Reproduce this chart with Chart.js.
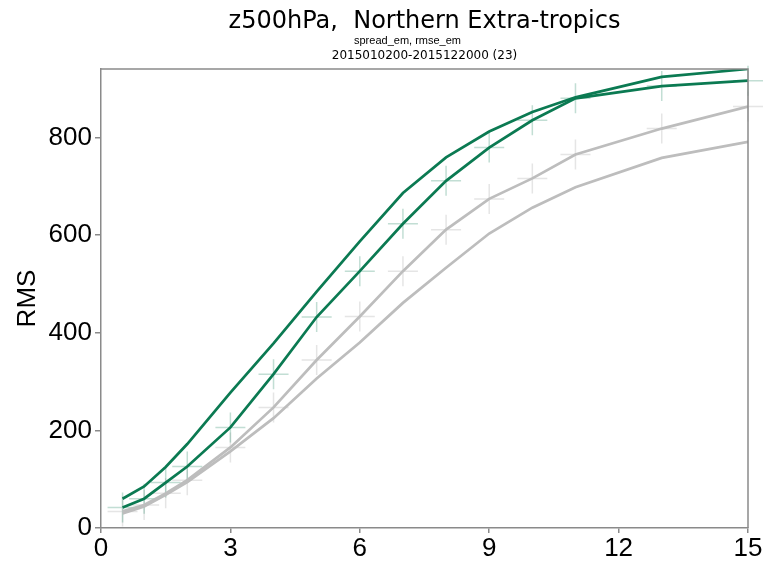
<!DOCTYPE html>
<html>
<head>
<meta charset="utf-8">
<script src="https://cdn.jsdelivr.net/npm/chart.js@4.4.0/dist/chart.umd.min.js"></script>
<style>
  html, body { margin: 0; padding: 0; background: #fff; }
</style>
</head>
<body>
<canvas id="rmsChart" width="766" height="568"></canvas>
<script>
// forecast step (days)
var steps = [0.5, 1, 1.5, 2, 3, 4, 5, 6, 7, 8, 9, 10, 11, 13, 15];
// green pair
var greenUpper = [60, 85, 125, 172, 277, 378, 484, 587, 686, 759, 812, 852, 882, 924, 940];
var greenLower = [42, 60, 93, 126, 206, 315, 432, 526, 623, 711, 779, 835, 880, 905, 916];
// grey pair
var greyUpper = [34, 47, 71, 98, 165, 247, 344, 433, 526, 611, 674, 716, 765, 818, 863];
var greyLower = [30, 44, 68, 94, 157, 225, 306, 380, 461, 533, 603, 656, 698, 758, 791];

var xTicks = [0, 3, 6, 9, 12, 15];
var yTicks = [0, 200, 400, 600, 800];

var titleMain = "z500hPa,  Northern Extra-tropics";
var subTitle1 = "spread_em, rmse_em";
var subTitle2 = "2015010200-2015122000 (23)";

var GREEN = "#0b7a52", GREY = "#bdbdbd", AXIS = "#8a8a8a";
var FONT = '"Liberation Sans", Arial, sans-serif';

function toPoints(xs, ys){
  var out = [];
  for (var i = 0; i < xs.length; i++) out.push({x: xs[i], y: ys[i]});
  return out;
}

function lineSet(vals, color){
  return {
    data: toPoints(steps, vals), showLine: true, borderColor: color, borderWidth: 2.7,
    pointRadius: 0, tension: 0, fill: false, order: 1
  };
}

function crossSet(vals, color){
  return {
    data: toPoints(steps, vals), showLine: false, pointStyle: 'cross', pointRadius: 15,
    pointHoverRadius: 15, borderColor: color, pointBorderColor: color, pointBorderWidth: 1.5,
    backgroundColor: color, clip: false, order: 5
  };
}

// titles over the plot box + frame on top/right
var plotDecor = {
  id: 'plotDecor',
  afterDraw: function(chart){
    var ctx = chart.ctx, a = chart.chartArea, cx = (a.left + a.right) / 2;
    ctx.save();
    ctx.strokeStyle = AXIS;
    ctx.lineWidth = 1.5;
    ctx.beginPath();
    ctx.moveTo(a.left, a.top); ctx.lineTo(a.right, a.top); ctx.lineTo(a.right, a.bottom);
    ctx.stroke();
    ctx.fillStyle = "#000";
    ctx.textAlign = "center";
    ctx.textBaseline = "alphabetic";
    ctx.font = '24px "DejaVu Sans", sans-serif';
    ctx.fillText(titleMain, cx, 28);
    ctx.font = '11px ' + FONT;
    ctx.fillText(subTitle1, cx - 17, 44);
    ctx.font = '12px "DejaVu Sans", sans-serif';
    ctx.fillText(subTitle2, cx, 59);
    ctx.restore();
  }
};

var chart = new Chart(document.getElementById("rmsChart").getContext("2d"), {
  type: 'scatter',
  data: {
    datasets: [
      lineSet(greenUpper, GREEN),
      lineSet(greenLower, GREEN),
      lineSet(greyUpper, GREY),
      lineSet(greyLower, GREY),
      crossSet(greenLower, "rgba(11,122,82,0.25)"),
      crossSet(greyUpper, "rgba(170,170,170,0.3)")
    ]
  },
  options: {
    responsive: false,
    animation: false,
    events: [],
    layout: { padding: { top: 69, right: 18, left: 0, bottom: 0 } },
    plugins: { legend: { display: false }, tooltip: { enabled: false }, title: { display: false } },
    scales: {
      x: {
        type: 'linear', min: 0, max: 15,
        afterBuildTicks: function(s){ s.ticks = xTicks.map(function(v){ return {value: v}; }); },
        afterFit: function(s){ s.height = 40; },
        grid: { drawOnChartArea: false, drawTicks: true, tickLength: 5, color: AXIS, lineWidth: 1.5 },
        border: { display: true, color: AXIS, width: 1.5 },
        ticks: { color: "#000", padding: 0, maxRotation: 0, font: { family: FONT, size: 26 } }
      },
      y: {
        type: 'linear', min: 0, max: 940,
        afterBuildTicks: function(s){ s.ticks = yTicks.map(function(v){ return {value: v}; }); },
        afterFit: function(s){ s.width = 101; },
        grid: { drawOnChartArea: false, drawTicks: true, tickLength: 6, color: AXIS, lineWidth: 1.5 },
        border: { display: true, color: AXIS, width: 1.5 },
        ticks: { color: "#000", padding: 3, font: { family: FONT, size: 26 } },
        title: { display: true, text: "RMS", color: "#000", padding: { top: 12, bottom: 0 },
                 font: { family: FONT, size: 26 } }
      }
    }
  },
  plugins: [plotDecor]
});
</script>
</body>
</html>
